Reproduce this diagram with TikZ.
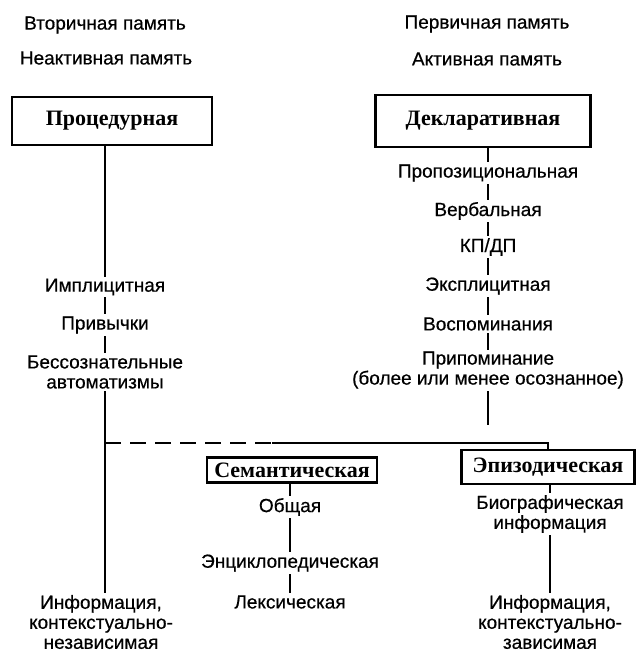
\documentclass[tikz,border=0pt]{standalone}
\usepackage{fontspec}
\setmainfont{Liberation Sans}
\newfontfamily\lblfont{Liberation Sans}[FakeBold=0.5]
\newfontfamily\boxfont{Liberation Serif}
\usetikzlibrary{backgrounds}
\tikzset{
	lbl/.style={fill=white, inner sep=2pt, align=center, font=\lblfont\fontsize{19}{20}\selectfont},
	memtype/.style={draw, line width=2.5pt, inner sep=0pt, font=\boxfont\bfseries\fontsize{22}{22}\selectfont},
	link/.style={line width=2pt}
}

\begin{document}
\begin{tikzpicture}[x=1pt,y=-1pt]
		\useasboundingbox (0,0) rectangle (642,667);
		\node [lbl] (secmem) at (105,25) {Вторичная память};
		\node [lbl] (inactmem) at (106,58) {Неактивная память};
		\node [memtype, minimum width=200, minimum height=48] (proc) at (112,121) {Процедурная};
		\node [lbl] (impl) at (105,287) {Имплицитная};
		\node [lbl] (habit) at (105,325) {Привычки};
		\node [lbl] (auto) at (105,372) {Бессознательные\\автоматизмы};
		\node [lbl] (infoL) at (101,622) {Информация,\\контекстуально-\\независимая};
		\node [lbl] (primmem) at (487,24) {Первичная память};
		\node [lbl] (actmem) at (487,59) {Активная память};
		\node [memtype, minimum width=215, minimum height=52] (decl) at (483,121) {Декларативная};
		\node [lbl] (prop) at (488,173) {Пропозициональная};
		\node [lbl] (verb) at (488,211) {Вербальная};
		\node [lbl] (kpdp) at (488,247) {КП/ДП};
		\node [lbl] (expl) at (488,286) {Эксплицитная};
		\node [lbl] (memo) at (488,324) {Воспоминания};
		\node [lbl] (recall) at (488,370) {Припоминание\\(более или менее осознанное)};
		\coordinate (declend) at (488,425);
		\coordinate (fork) at (105,443);
		\coordinate (dashend) at (272,443);
		\node [memtype, minimum width=170, minimum height=25] (sem) at (292,470) {Семантическая};
		\node [memtype, minimum width=173, minimum height=34] (epi) at (548,467) {Эпизодическая};
		\node [lbl] (gen) at (290,507) {Общая};
		\node [lbl] (enc) at (290,563) {Энциклопедическая};
		\node [lbl] (lex) at (290,602) {Лексическая};
		\node [lbl] (bio) at (550,514) {Биографическая\\информация};
		\node [lbl] (infoR) at (550,622) {Информация,\\контекстуально-\\зависимая};
		\begin{scope}[on background layer]
			\draw [link] (proc.south -| impl) -- (infoL.north -| impl);
			\draw [link] (decl.south -| prop) -- (declend);
			\draw [link, dash pattern=on 16pt off 9pt] (fork) -- (dashend);
			\draw [link] (dashend) -- (epi.north |- fork) -- (epi.north);
			\draw [link] (sem.north -| gen) -- (sem.north -| gen |- fork);
			\draw [link] (sem.south -| gen) -- (lex.north);
			\draw [link] (epi.south -| bio) -- (infoR.north);
		\end{scope}
	\end{tikzpicture}
\end{document}
